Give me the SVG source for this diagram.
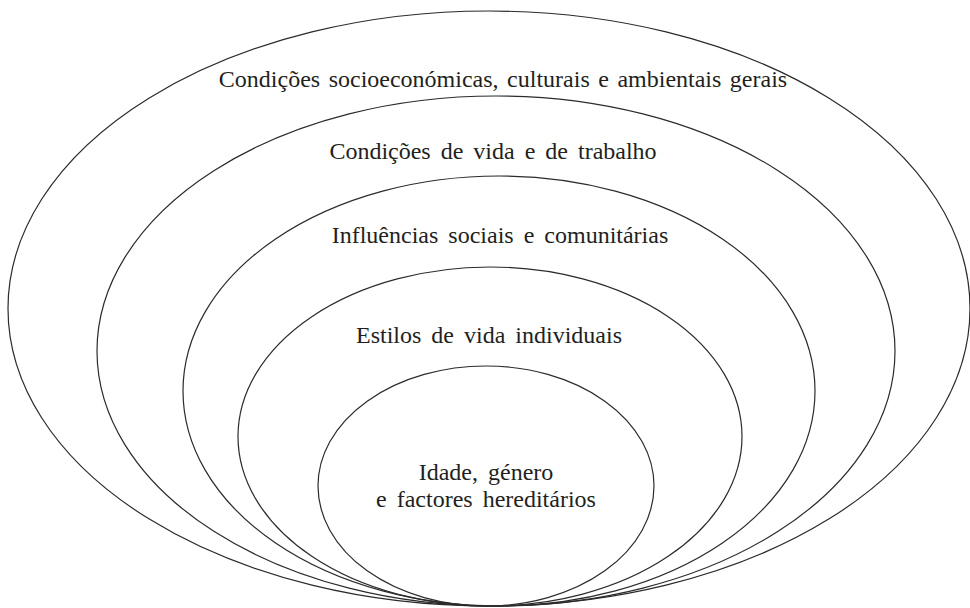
<svg xmlns="http://www.w3.org/2000/svg" width="970" height="608" viewBox="0 0 970 608">
<style>
.ring{fill:none;stroke:#2b2b2b;stroke-width:1.2}
.lbl{font-family:'Liberation Serif','Times New Roman',serif;font-size:24px;fill:#231f20;text-anchor:middle;word-spacing:4px}
</style>
<rect width="970" height="608" fill="#fff"/>
<g id="ring1"><ellipse class="ring" cx="489" cy="308.5" rx="481" ry="297.5"/></g>
<g id="ring2"><ellipse class="ring" cx="496" cy="351" rx="399" ry="255"/></g>
<g id="ring3"><ellipse class="ring" cx="499" cy="391" rx="316" ry="215"/></g>
<g id="ring4"><ellipse class="ring" cx="490" cy="436.5" rx="252" ry="169.5"/></g>
<g id="ring5"><ellipse class="ring" cx="486" cy="486" rx="168" ry="120"/></g>
<g id="labels">
<text class="lbl" x="503" y="87" style="word-spacing:2.5px">Condições socioeconómicas, culturais e ambientais gerais</text>
<text class="lbl" x="493" y="159">Condições de vida e de trabalho</text>
<text class="lbl" x="500" y="243">Influências sociais e comunitárias</text>
<text class="lbl" x="489" y="343">Estilos de vida individuais</text>
<text class="lbl" x="486" y="480">Idade, género</text>
<text class="lbl" x="486" y="507">e factores hereditários</text>
</g>
</svg>
